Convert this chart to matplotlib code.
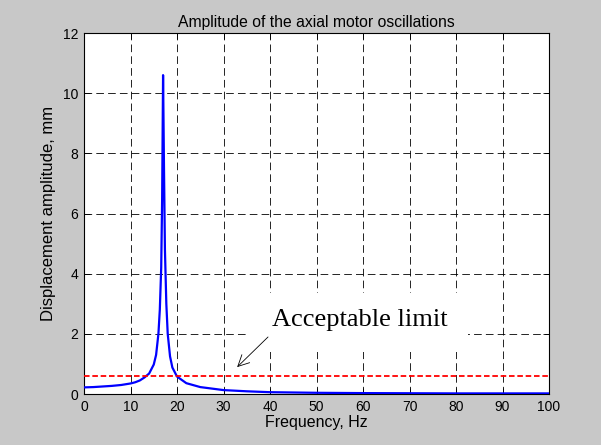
import numpy as np
import matplotlib
matplotlib.use('Agg')
import matplotlib.pyplot as plt
from matplotlib.patches import Rectangle

plt.rcParams['font.family'] = ['Liberation Sans', 'DejaVu Sans']
plt.rcParams['lines.scale_dashes'] = False

# frequency response
freq = [0, 2, 4, 6, 8, 10, 11, 12, 13, 14, 15, 15.5, 16, 16.3, 16.6, 16.8,
        17, 17.2, 17.4, 17.7, 18, 18.5, 19, 20, 22, 25, 30, 35, 40, 50, 60,
        80, 100]
amp = [0.22, 0.23, 0.25, 0.27, 0.30, 0.35, 0.39, 0.45, 0.55, 0.68, 0.98,
       1.3, 2.0, 2.8, 4.2, 6.5, 10.6, 7.5, 4.8, 3.0, 2.0, 1.25, 0.88, 0.58,
       0.36, 0.23, 0.13, 0.09, 0.06, 0.04, 0.03, 0.02, 0.02]
limit = 0.6

xticks = np.arange(0, 101, 10)
yticks = np.arange(0, 13, 2)

fig = plt.figure(figsize=(6.01, 4.45), dpi=100, facecolor='#c8c8c8')
ax = fig.add_axes([0.1398, 0.1146, 0.7737, 0.8112])
ax.set_facecolor('white')

ax.plot(freq, amp, color='#0000ff', lw=1.6, zorder=3)
ax.axhline(limit, color='#ff0000', lw=1.3, linestyle=(0, (4, 2)), zorder=3)

ax.set_xlim(0, 100)
ax.set_ylim(0, 12)
ax.set_xticks(xticks)
ax.set_yticks(yticks)
ax.tick_params(direction='in', top=True, right=True, length=4, width=0.6,
               labelsize=10, pad=4)
ax.grid(True, color='black', lw=0.6, linestyle=(0, (5.5, 3)))
ax.set_axisbelow(True)
for s in ax.spines.values():
    s.set_linewidth(0.8)

ax.set_title('Amplitude of the axial motor oscillations', fontsize=11.3, pad=4)
ax.set_xlabel('Frequency, Hz', fontsize=11.5, labelpad=1)
ax.set_ylabel('Displacement amplitude, mm', fontsize=12, labelpad=5)

# annotation box hiding the grid behind the text
ax.add_patch(Rectangle((35.0, 1.40), 47.6, 1.96, facecolor='white',
                       edgecolor='none', zorder=1))
ax.text(59.3, 2.45, 'Acceptable limit', family='Liberation Serif',
        fontsize=19, ha='center', va='center', zorder=4)
ax.annotate('', xy=(32.5, 0.83), xytext=(40.0, 1.96),
            arrowprops=dict(arrowstyle='->', color='black', lw=0.6,
                            mutation_scale=20), zorder=4)

fig.savefig('out.png', dpi=100, facecolor=fig.get_facecolor())
